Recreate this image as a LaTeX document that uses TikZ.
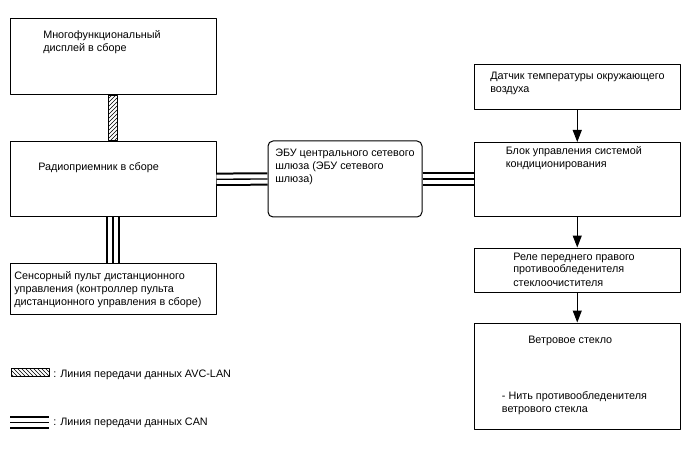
\documentclass[tikz,border=0pt]{standalone}
\usepackage{fontspec}
\setmainfont{Liberation Sans}
\usetikzlibrary{fit,patterns,arrows.meta}
\tikzset{
  blk/.style={draw,line width=0.75pt,inner sep=0pt},
  txt/.style={inner sep=0pt,anchor=base west,align=left,font=\fontsize{8.1}{9.75}\selectfont},
  can/.style={line width=10pt,postaction={draw=white,line width=7pt},postaction={draw=black,line width=1pt}},
  arr/.style={line width=0.75pt,-{Triangle[length=9pt,width=6.75pt]}}
}
\begin{document}
\begin{tikzpicture}[x=0.75pt,y=-0.75pt,line join=round]
  % Frame of the original artwork.
  \useasboundingbox (0,0) rectangle (688,463);

  % Left column of units.
  \node[blk,fit={(10,19) (216,95)}] (disp) {};
  \node[blk,fit={(10,141.5) (216,217)}] (radio) {};
  \node[blk,fit={(10,263) (216,314)}] (remote) {};

  % Gateway in the middle.
  \node[blk,rounded corners=3.75pt,fit={(268,141) (422,217)}] (gate) {};

  % Right column of units.
  \node[blk,fit={(474.5,65) (680,110)}] (temp) {};
  \node[blk,fit={(474.5,142.5) (680,216.5)}] (ac) {};
  \node[blk,fit={(474.5,248) (680,292.5)}] (relay) {};
  \node[blk,fit={(474.5,323) (680,429)}] (wind) {};

  % Texts inside the boxes (placed at the baseline of the last line).
  \node[txt] (dispT) at (43,52) {Многофункциональный\\дисплей в сборе};
  \node[txt] (radioT) at (38,171) {Радиоприемник в сборе};
  \node[txt] (remoteT) at (14,305) {Сенсорный пульт дистанционного\\управления (контроллер пульта\\дистанционного управления в сборе)};
  \node[txt] (gateT) at (275,183) {ЭБУ центрального сетевого\\шлюза (ЭБУ сетевого\\шлюза)};
  \node[txt] (tempT) at (490,93) {Датчик температуры окружающего\\воздуха};
  \node[txt] (acT) at (505.5,168) {Блок управления системой\\кондиционирования};
  \node[txt] (relayT) at (513,286) {Реле переднего правого\\противообледенителя\\стеклоочистителя};
  \node[txt] (windT) at (528,343) {Ветровое стекло};
  \node[txt] (windT2) at (501.7,412) {- Нить противообледенителя\\ветрового стекла};

  % AVC-LAN bus.
  \draw[line width=0.75pt,pattern=north east lines]
    ([xshift=-3.4pt]disp.south) rectangle ([xshift=3.4pt]radio.north);

  % CAN buses.
  \draw[can] (radio.south) -- (remote.north);
  \draw[can] (radio.east) -- (gate.west);
  \draw[can] (gate.east) -- (gate.east -| ac.west);

  % Signal flow on the right.
  \draw[arr] (temp) -- (ac);
  \draw[arr] (ac) -- (relay);
  \draw[arr] (relay) -- (wind);

  % Legend.
  \node[blk,pattern=north west lines,fit={(11,368) (49,376)}] (legAvc) {};
  \node[txt] (legAvcT) at (53,377) {: Линия передачи данных AVC-LAN};
  \coordinate (legCanA) at (10,422.5);
  \coordinate (legCanB) at (49,422.5);
  \draw[can] (legCanA) -- (legCanB);
  \node[txt] (legCanT) at (53,425.7) {: Линия передачи данных CAN};
\end{tikzpicture}
\end{document}
